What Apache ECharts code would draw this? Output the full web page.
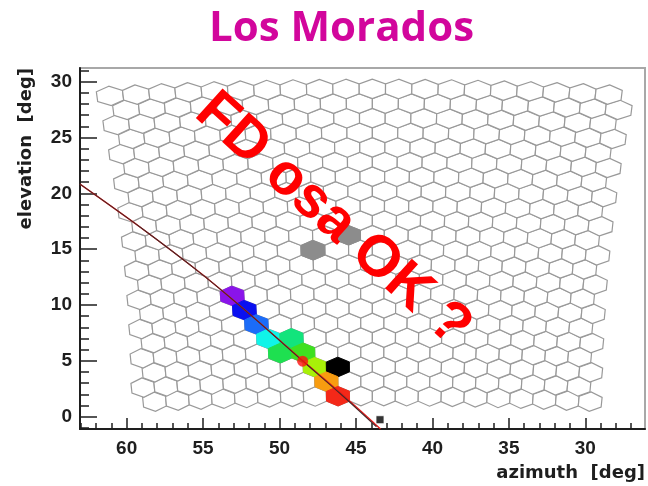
<!DOCTYPE html>
<html>
<head>
<meta charset="utf-8">
<script src="https://cdn.jsdelivr.net/npm/echarts@6/dist/echarts.min.js"></script>
<style>
  html, body { margin: 0; padding: 0; background: #fff; }
  #chart { width: 648px; height: 486px; }
</style>
</head>
<body>
<div id="chart"></div>
<script>
// ---- Camera layout: 22 rows x 20 columns of hexagonal pixels on a tilted spherical focal surface ----
const cameraRows = 22;
const cameraCols = 20;
const pixelPitch = 1.5;        // angular pitch between neighbouring pixels in a row [deg]
const rowPitch = 1.31;         // angular pitch between rows [deg]
const cameraTilt = 16;         // elevation of the optical axis [deg]
const firstRowOffset = -14.15; // angle of the lowest row below the optical axis [deg]
const cameraAzimuth = 43.93;   // azimuth of the optical axis [deg]

// ---- Triggered pixels ----
const hitRows   = [7, 6, 5, 4, 4, 3, 3, 2, 2, 1, 0, 10, 11];
const hitCols   = [4, 4, 5, 5, 6, 6, 7, 7, 8, 8, 8, 7, 9];
const hitColors = ['#8a14ea', '#0a10f0', '#1c6cf8', '#10f4e8', '#12e47c', '#1ee050',
                   '#3ee020', '#a8f008', '#000000', '#f89c10', '#f42818', '#8c8c8c', '#8c8c8c'];

// ---- Shower-detector plane: fitted axis and expected track ----
const fitTrackAz = [63.05, 59.13, 55.15, 51.94, 48.50, 46.06, 43.66];
const fitTrackEl = [20.83, 16.99, 12.84, 9.17, 5.01, 2.10, -0.90];
const sdpTrackAz = [63.05, 59.13, 55.15, 51.94, 48.45, 45.95, 43.40];
const sdpTrackEl = [20.83, 16.99, 12.84, 9.17, 4.98, 2.05, -1.10];

// ---- Markers ----
const hotStationAz = [48.49];
const hotStationEl = [4.97];
const coreAz = [43.43];
const coreEl = [-0.27];

// ---- Axis ticks ----
const azMajorTicks = [30, 35, 40, 45, 50, 55, 60];
const elMajorTicks = [0, 5, 10, 15, 20, 25, 30];
const azMinorTicks = [27, 28, 29, 31, 32, 33, 34, 36, 37, 38, 39, 41, 42, 43, 44,
                      46, 47, 48, 49, 51, 52, 53, 54, 56, 57, 58, 59, 61, 62, 63];
const elMinorTicks = [-1, 1, 2, 3, 4, 6, 7, 8, 9, 11, 12, 13, 14, 16, 17, 18, 19,
                      21, 22, 23, 24, 26, 27, 28, 29, 31];

const AZ_MIN = 26.1, AZ_MAX = 63.05;
const EL_MIN = -1.1, EL_MAX = 31.23;

const D2R = Math.PI / 180;

// camera-frame angles (phi across, theta up) -> sky [azimuth, elevation]
function toSky(phi, theta) {
  const cp = Math.cos(phi * D2R), sp = Math.sin(phi * D2R);
  const ct = Math.cos(theta * D2R), st = Math.sin(theta * D2R);
  const x = ct * cp, y = ct * sp, z = st;
  const c = Math.cos(cameraTilt * D2R), s = Math.sin(cameraTilt * D2R);
  const xw = x * c - z * s, zw = x * s + z * c;
  return [cameraAzimuth + Math.atan2(y, xw) / D2R, Math.asin(zw) / D2R];
}

// outline of one pixel (pointy-top hexagon of the honeycomb), in sky coordinates
function pixelOutline(row, col) {
  const theta = firstRowOffset + row * rowPitch;
  const step = pixelPitch / Math.cos(theta * D2R);
  const shift = (row % 2 === 1) ? 0.5 : 0;
  const phi = (9.5 + shift - col) * step;
  const hw = step / 2, r = rowPitch / 1.5;
  return [
    [phi, theta + r], [phi + hw, theta + r / 2], [phi + hw, theta - r / 2],
    [phi, theta - r], [phi - hw, theta - r / 2], [phi - hw, theta + r / 2]
  ].map(p => toSky(p[0], p[1]));
}

const cameraPixels = [];
for (let r = 0; r < cameraRows; r++) {
  for (let c = 0; c < cameraCols; c++) cameraPixels.push([r, c, -1]);
}
const hitPixels = hitRows.map((r, i) => [r, hitCols[i], i]);

function hexRender(fillFn, strokeFn, width) {
  return function (params, api) {
    const pts = pixelOutline(api.value(0), api.value(1)).map(p => api.coord(p));
    const idx = api.value(2);
    return {
      type: 'polygon',
      shape: { points: pts },
      style: { fill: fillFn(idx), stroke: strokeFn(idx), lineWidth: width }
    };
  };
}

const tickFont = { fontFamily: 'Liberation Sans', fontSize: 19, fontWeight: 'bold', color: '#1e1e1e' };
const titleFont = { fontFamily: 'DejaVu Sans', fontSize: 18, fontWeight: 'bold', color: '#1e1e1e' };
const tickLine = { color: '#1e1e1e', width: 1.5 };

const chart = echarts.init(document.getElementById('chart'), null, { renderer: 'canvas' });
chart.setOption({
  animation: false,
  backgroundColor: '#fff',
  title: {
    text: 'Los Morados',
    left: 204, top: 3,
    textStyle: { fontFamily: 'Open Sans', fontWeight: 'bold', fontSize: 42, color: '#d2069c' }
  },
  grid: {
    left: 80, right: 3, top: 68, bottom: 57,
    outerBoundsMode: 'none', containLabel: false,
    show: true, borderColor: '#a8a8a8', borderWidth: 2, backgroundColor: '#fff'
  },
  xAxis: [{
    type: 'value', inverse: true, min: AZ_MIN, max: AZ_MAX,
    name: 'azimuth  [deg]', nameLocation: 'start', nameGap: 0,
    nameTextStyle: Object.assign({}, titleFont, { align: 'right', verticalAlign: 'top', padding: [35, 0, 0, 0] }),
    axisLine: { show: true, onZero: false, lineStyle: { color: '#1e1e1e', width: 2 } },
    axisTick: { show: true, inside: true, length: 11, customValues: azMajorTicks, lineStyle: tickLine },
    axisLabel: Object.assign({ customValues: azMajorTicks, margin: 10 }, tickFont),
    splitLine: { show: false }
  }, {
    type: 'value', inverse: true, min: AZ_MIN, max: AZ_MAX, position: 'bottom',
    axisLine: { show: false, onZero: false },
    axisTick: { show: true, inside: true, length: 6, customValues: azMinorTicks, lineStyle: tickLine },
    axisLabel: { show: false },
    splitLine: { show: false }
  }],
  yAxis: [{
    type: 'value', min: EL_MIN, max: EL_MAX,
    name: 'elevation  [deg]', nameLocation: 'end', nameRotate: 90, nameGap: 0,
    nameTextStyle: Object.assign({}, titleFont, { align: 'right', verticalAlign: 'bottom', padding: [0, 0, 45, 0] }),
    axisLine: { show: true, onZero: false, lineStyle: { color: '#1e1e1e', width: 2 } },
    axisTick: { show: true, inside: true, length: 17, customValues: elMajorTicks, lineStyle: tickLine },
    axisLabel: Object.assign({ customValues: elMajorTicks, margin: 8 }, tickFont),
    splitLine: { show: false }
  }, {
    type: 'value', min: EL_MIN, max: EL_MAX, position: 'left',
    axisLine: { show: false, onZero: false },
    axisTick: { show: true, inside: true, length: 9, customValues: elMinorTicks, lineStyle: tickLine },
    axisLabel: { show: false },
    splitLine: { show: false }
  }],
  series: [{
    type: 'custom', name: 'camera', coordinateSystem: 'cartesian2d',
    renderItem: hexRender(() => '#fff', () => '#999999', 1.2),
    data: cameraPixels,
    encode: { x: -1, y: -1 },
    clip: true, z: 1
  }, {
    type: 'custom', name: 'hits', coordinateSystem: 'cartesian2d',
    renderItem: hexRender(i => hitColors[i], i => hitColors[i], 1),
    data: hitPixels,
    encode: { x: -1, y: -1 },
    clip: true, z: 2
  }, {
    type: 'line', name: 'sdp', data: sdpTrackAz.map((a, i) => [a, sdpTrackEl[i]]),
    smooth: 0.3, symbol: 'none', lineStyle: { color: '#e81818', width: 1.3 }, clip: true, z: 3
  }, {
    type: 'line', name: 'fit', data: fitTrackAz.map((a, i) => [a, fitTrackEl[i]]),
    smooth: 0.3, symbol: 'none', lineStyle: { color: '#4a2626', width: 1.1 }, clip: true, z: 4
  }, {
    type: 'scatter', name: 'station', data: hotStationAz.map((a, i) => [a, hotStationEl[i]]),
    symbol: 'circle', symbolSize: 11, itemStyle: { color: '#ff1010' }, z: 5
  }, {
    type: 'scatter', name: 'core', data: coreAz.map((a, i) => [a, coreEl[i]]),
    symbol: 'rect', symbolSize: 8, itemStyle: { color: '#000', borderColor: '#fff', borderWidth: 1 }, z: 5
  }],
  graphic: [{
    type: 'text', x: 333, y: 220, rotation: -42 * D2R, z: 100,
    style: {
      text: 'FD osa OK ?', fill: '#ff0000',
      font: 'bold 58px "Liberation Sans"', align: 'center', verticalAlign: 'middle'
    }
  }]
});
</script>
</body>
</html>
